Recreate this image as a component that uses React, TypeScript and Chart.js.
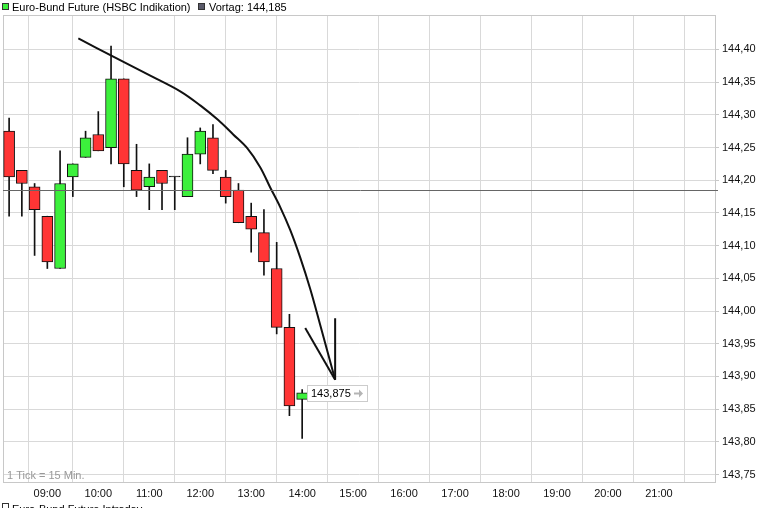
import React, { useEffect, useRef } from "react";
import { Chart, registerables } from "chart.js";

Chart.register(...registerables);

// ---- data -------------------------------------------------------------
const candleTimes = ["08:15","08:30","08:45","09:00","09:15","09:30","09:45","10:00","10:15","10:30","10:45","11:00","11:15","11:30","11:45","12:00","12:15","12:30","12:45","13:00","13:15","13:30","13:45","14:00"];
const opens  = [144.275,144.215,144.19,144.145,144.065,144.205,144.235,144.27,144.25,144.355,144.215,144.19,144.215,144.205,144.175,144.24,144.265,144.205,144.185,144.145,144.12,144.065,143.975,143.865];
const highs  = [144.295,144.215,144.195,144.145,144.245,144.225,144.275,144.305,144.405,144.355,144.255,144.225,144.215,144.205,144.265,144.28,144.285,144.215,144.195,144.165,144.155,144.105,143.995,143.88];
const lows   = [144.145,144.145,144.085,144.065,144.065,144.175,144.235,144.245,144.225,144.19,144.175,144.155,144.155,144.155,144.175,144.225,144.21,144.165,144.135,144.09,144.055,143.965,143.84,143.805];
const closes = [144.205,144.195,144.155,144.075,144.195,144.225,144.265,144.245,144.355,144.225,144.185,144.205,144.195,144.205,144.24,144.275,144.215,144.175,144.135,144.125,144.075,143.975,143.855,143.875];

const previousClose = 144.185;
const priceTicks = [143.75,143.80,143.85,143.90,143.95,144.00,144.05,144.10,144.15,144.20,144.25,144.30,144.35,144.40];
const hourTicks = [9,10,11,12,13,14,15,16,17,18,19,20,21];
const hourLabels = ["09:00","10:00","11:00","12:00","13:00","14:00","15:00","16:00","17:00","18:00","19:00","20:00","21:00"];
const extraGridHours = [8.25, 22];

// hand-drawn arrow annotation (time in hours, price)
const arrowCurveHours  = [9.608,10.294,11.02,11.608,12.0,12.353,12.647,12.922,13.176,13.373,13.569,13.765,13.961,14.157,14.353,14.647];
const arrowCurvePrices = [144.417,144.389,144.36,144.336,144.3145,144.292,144.27,144.249,144.22,144.189,144.159,144.124,144.082,144.034,143.979,143.895];
const arrowLeftBarbHours = [14.06, 14.647];
const arrowLeftBarbPrices = [143.974, 143.895];
const arrowRightBarbHours = [14.647, 14.647];
const arrowRightBarbPrices = [143.989, 143.895];

const legendTitle = "Euro-Bund Future (HSBC Indikation)";
const legendPrev = "Vortag: 144,185";
const tickNote = "1 Tick = 15 Min.";
const bottomLegend = "Euro-Bund Future Intraday";

// ---- helpers ----------------------------------------------------------
const toHours = (s: string) => {
  const [h, m] = s.split(":").map(Number);
  return h + m / 60;
};
const fmt = (v: number, d: number) => v.toFixed(d).replace(".", ",");

const GREEN = "#3cf03c";
const RED = "#ff3535";
const GRID = "#d9d9d9";
const FRAME = "#c8c8c8";
const FONT = "'Liberation Sans', Arial, sans-serif";

export default function App() {
  const ref = useRef<HTMLCanvasElement | null>(null);

  useEffect(() => {
    document.body.style.margin = "0";
    const canvas = ref.current;
    if (!canvas) return;

    const xs = candleTimes.map(toHours);
    const bodyColors = closes.map((c, i) =>
      c > opens[i] ? GREEN : c < opens[i] ? RED : "#111111"
    );

    const overlay = {
      id: "overlay",
      beforeDatasetsDraw(chart: any) {
        const { ctx, chartArea: a } = chart;
        ctx.save();
        ctx.strokeStyle = FRAME;
        ctx.lineWidth = 1;
        ctx.strokeRect(a.left + 0.5, a.top + 0.5, a.right - a.left - 1, a.bottom - a.top - 1);
        ctx.restore();
      },
      afterDatasetsDraw(chart: any) {
        const { ctx, chartArea: a, scales } = chart;
        const xS = scales.x, yS = scales.y;
        ctx.save();
        // previous close line
        const yp = Math.round(yS.getPixelForValue(previousClose)) + 0.5;
        ctx.strokeStyle = "#666666";
        ctx.lineWidth = 1;
        ctx.beginPath();
        ctx.moveTo(a.left, yp);
        ctx.lineTo(a.right + 2, yp);
        ctx.stroke();

        // last price label
        const lastI = closes.length - 1;
        const lx = Math.round(xS.getPixelForValue(xs[lastI]) + 4.5);
        const ly = yS.getPixelForValue(closes[lastI]);
        const by = Math.round(ly - 8);
        ctx.fillStyle = "#ffffff";
        ctx.fillRect(lx, by, 60, 16);
        ctx.strokeStyle = "#cccccc";
        ctx.strokeRect(lx + 0.5, by + 0.5, 60, 16);
        ctx.font = `11px ${FONT}`;
        ctx.textBaseline = "middle";
        ctx.textAlign = "left";
        ctx.fillStyle = "#000000";
        ctx.fillText(fmt(closes[lastI], 3), lx + 4, by + 9);
        // small grey arrow
        ctx.strokeStyle = "#b4b4b4";
        ctx.fillStyle = "#b4b4b4";
        ctx.lineWidth = 2;
        ctx.beginPath();
        ctx.moveTo(lx + 47, by + 8.5);
        ctx.lineTo(lx + 53, by + 8.5);
        ctx.stroke();
        ctx.beginPath();
        ctx.moveTo(lx + 56, by + 8.5);
        ctx.lineTo(lx + 52, by + 4.5);
        ctx.lineTo(lx + 52, by + 12.5);
        ctx.closePath();
        ctx.fill();
        ctx.lineWidth = 1;

        // tick note
        ctx.fillStyle = "#999999";
        ctx.textBaseline = "alphabetic";
        ctx.fillText(tickNote, a.left + 4, a.bottom - 4);

        // top legend
        ctx.font = `11px ${FONT}`;
        ctx.fillStyle = GREEN;
        ctx.fillRect(2, 3, 7, 7);
        ctx.strokeStyle = "#333333";
        ctx.strokeRect(2.5, 3.5, 6, 6);
        ctx.fillStyle = "#000000";
        ctx.fillText(legendTitle, 12, 11);
        ctx.fillStyle = "#5a5a6a";
        ctx.fillRect(198, 3, 7, 7);
        ctx.strokeRect(198.5, 3.5, 6, 6);
        ctx.fillStyle = "#000000";
        ctx.fillText(legendPrev, 209, 11);

        // bottom legend (clipped by page edge)
        ctx.fillStyle = "#ffffff";
        ctx.fillRect(2, 503, 7, 7);
        ctx.strokeStyle = "#333333";
        ctx.strokeRect(2.5, 503.5, 6, 6);
        ctx.fillStyle = "#000000";
        ctx.textBaseline = "top";
        ctx.fillText(bottomLegend, 12, 504);
        ctx.restore();
      },
    };

    const lineStyle = {
      type: "line",
      borderColor: "#111111",
      borderWidth: 2,
      pointRadius: 0,
      order: 0,
    };

    const chart = new Chart(canvas, {
      type: "bar",
      data: {
        datasets: [
          {
            ...lineStyle,
            data: arrowCurveHours.map((h, i) => ({ x: h, y: arrowCurvePrices[i] })),
            tension: 0.35,
          } as any,
          {
            ...lineStyle,
            data: arrowLeftBarbHours.map((h, i) => ({ x: h, y: arrowLeftBarbPrices[i] })),
          } as any,
          {
            ...lineStyle,
            data: arrowRightBarbHours.map((h, i) => ({ x: h, y: arrowRightBarbPrices[i] })),
          } as any,
          {
            data: xs.map((x, i) => ({ x, y: [opens[i], closes[i]] })),
            backgroundColor: bodyColors,
            borderColor: "#111111",
            borderWidth: 1,
            borderSkipped: false,
            barThickness: 11,
            minBarLength: 1,
            grouped: false,
            order: 1,
          } as any,
          {
            data: xs.map((x, i) => ({ x, y: [lows[i], highs[i]] })),
            backgroundColor: "#111111",
            borderWidth: 0,
            barThickness: 1,
            grouped: false,
            order: 2,
          } as any,
        ],
      },
      options: {
        animation: false,
        responsive: false,
        maintainAspectRatio: false,
        events: [],
        layout: { padding: { left: 3, top: 15, right: 0, bottom: 0 } },
        plugins: { legend: { display: false }, tooltip: { enabled: false } },
        scales: {
          x: {
            type: "linear",
            min: 8.13,
            max: 22.12,
            offset: false,
            afterFit: (s: any) => { s.height = 25; },
            afterBuildTicks: (s: any) => {
              s.ticks = [extraGridHours[0], ...hourTicks, extraGridHours[1]].map((v) => ({ value: v }));
            },
            grid: { color: GRID, drawTicks: false, lineWidth: 1 },
            border: { display: false },
            ticks: {
              autoSkip: false,
              maxRotation: 0,
              padding: 4,
              color: "#111111",
              font: { family: FONT, size: 11 },
              callback: (v: any) => {
                const i = hourTicks.indexOf(Number(v));
                return i >= 0 ? hourLabels[i] : "";
              },
            },
          },
          y: {
            type: "linear",
            position: "right",
            min: 143.737,
            max: 144.4527,
            afterFit: (s: any) => { s.width = 59; },
            afterBuildTicks: (s: any) => {
              s.ticks = priceTicks.map((v) => ({ value: v }));
            },
            grid: { color: GRID, tickLength: 3, tickColor: FRAME, lineWidth: 1 },
            border: { display: false },
            ticks: {
              padding: 3,
              color: "#111111",
              font: { family: FONT, size: 11 },
              callback: (v: any) => fmt(Number(v), 2),
            },
          },
        },
      } as any,
      plugins: [overlay],
    });

    return () => chart.destroy();
  }, []);

  return (
    <div style={{ width: 775, height: 508, background: "#ffffff", overflow: "hidden" }}>
      <canvas ref={ref} width={775} height={508} style={{ display: "block" }} />
    </div>
  );
}
